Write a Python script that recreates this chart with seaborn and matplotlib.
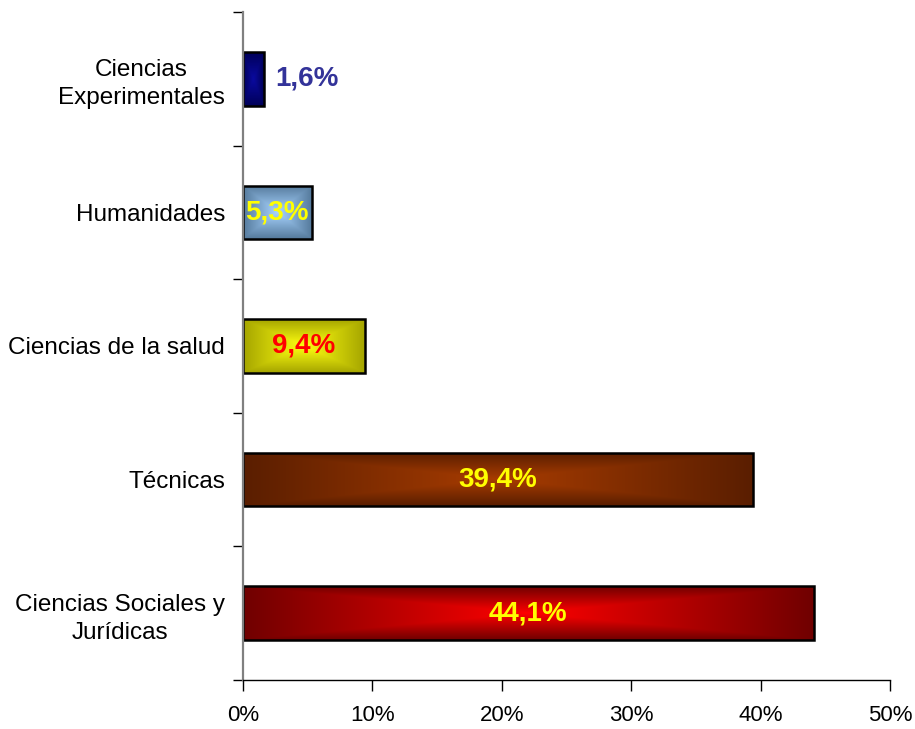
"""Horizontal bar chart with gradient-filled bars."""

import matplotlib.pyplot as plt
import numpy as np
import seaborn as sns
from matplotlib.colors import to_rgb
from matplotlib.ticker import FixedLocator, PercentFormatter

categories = [
    "Ciencias\nExperimentales",
    "Humanidades",
    "Ciencias de la salud",
    "Técnicas",
    "Ciencias Sociales y\nJurídicas",
]
values = [1.6, 5.3, 9.4, 39.4, 44.1]
center_colors = ["#0a0aa0", "#a8d4ff", "#ffff10", "#a83c00", "#ff0000"]
edge_colors = ["#000058", "#557a9c", "#a5a500", "#5a1e00", "#700000"]
label_colors = ["#333399", "#ffff00", "#ff0000", "#ffff00", "#ffff00"]
x_ticks = [0, 10, 20, 30, 40, 50]


def box_gradient(c_center, c_edge, nx=400, ny=80):
    """Rectangular 'from centre' gradient like Office shape fills."""
    u = np.abs(np.linspace(-1, 1, nx))
    v = np.abs(np.linspace(-1, 1, ny))
    t = np.maximum(u[None, :], v[:, None])
    c0, c1 = np.array(to_rgb(c_center)), np.array(to_rgb(c_edge))
    return c0 + (c1 - c0) * t[..., None]


sns.set_theme(style="white")
plt.rcParams["font.family"] = ["Liberation Sans", "DejaVu Sans"]
plt.rcParams["text.color"] = "black"
plt.rcParams["xtick.labelcolor"] = "black"
plt.rcParams["ytick.labelcolor"] = "black"

fig = plt.figure(figsize=(9.15, 7.29), dpi=100)
ax = fig.add_axes([243 / 915, 1 - 680 / 729, (890 - 243) / 915, (680 - 12) / 729])

sns.barplot(
    x=values, y=categories, orient="h", width=0.4,
    color="white", edgecolor="black", linewidth=1.8, ax=ax,
)

# gradient fills clipped to each bar
for patch, c0, c1 in zip(ax.patches, center_colors, edge_colors):
    x0, y0 = patch.get_x(), patch.get_y()
    w, h = patch.get_width(), patch.get_height()
    img = ax.imshow(
        box_gradient(c0, c1), extent=(x0, x0 + w, y0 + h, y0),
        aspect="auto", interpolation="bilinear", zorder=patch.get_zorder() - 0.01,
    )
    img.set_clip_path(patch)
    patch.set_facecolor("none")

# value labels
for patch, v, col in zip(ax.patches, values, label_colors):
    y = patch.get_y() + patch.get_height() / 2
    txt = f"{v:.1f}".replace(".", ",") + "%"
    style = dict(color=col, fontsize=20, fontweight="bold", va="center")
    if v < 3:
        ax.annotate(txt, (patch.get_width(), y), xytext=(8, 0),
                    textcoords="offset points", ha="left", **style)
    else:
        ax.text(patch.get_width() / 2, y, txt, ha="center", zorder=5, **style)

ax.set_xlim(0, 50)
ax.set_ylim(len(categories) - 0.5, -0.5)
ax.set_xlabel("")
ax.set_ylabel("")
ax.grid(False)

ax.xaxis.set_major_locator(FixedLocator(x_ticks))
ax.xaxis.set_major_formatter(PercentFormatter(decimals=0))
ax.yaxis.set_minor_locator(FixedLocator(np.arange(-0.5, len(categories), 1.0)))

ax.tick_params(axis="x", which="major", bottom=True, length=8, width=1,
               color="black", pad=10, labelsize=16, direction="out")
ax.tick_params(axis="y", which="major", left=True, length=0, pad=13, labelsize=17.5)
ax.tick_params(axis="y", which="minor", left=True, length=7, width=1,
               color="black", direction="out")
for lbl in ax.get_yticklabels():
    lbl.set_multialignment("center")
    lbl.set_linespacing(1.35)

for side in ("top", "right"):
    ax.spines[side].set_visible(False)
ax.spines["left"].set_color("#808080")
ax.spines["left"].set_linewidth(1.6)
ax.spines["bottom"].set_color("black")
ax.spines["bottom"].set_linewidth(1)

fig.savefig("out.png", dpi=100)
